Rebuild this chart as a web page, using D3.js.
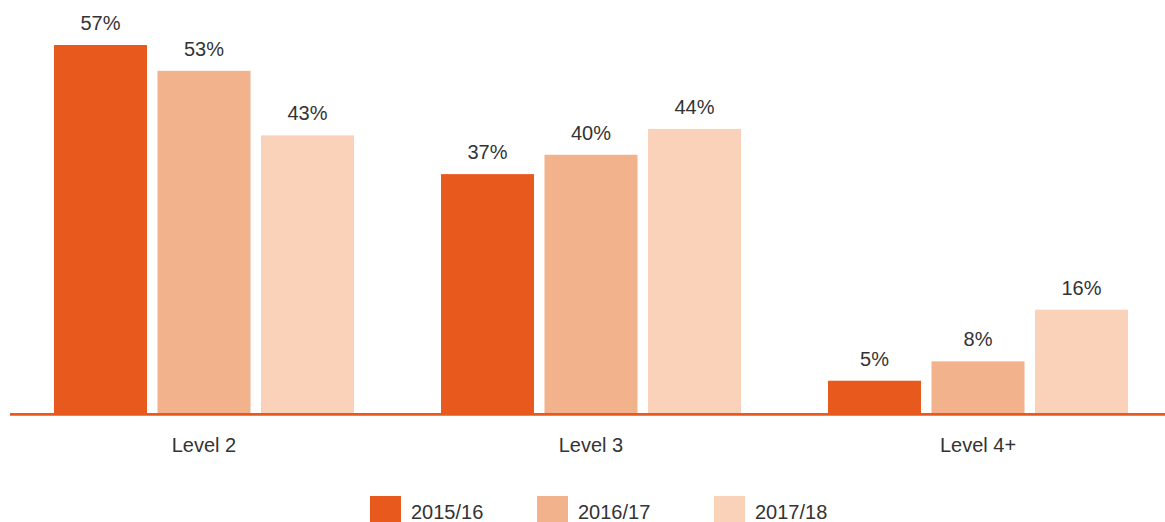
<!DOCTYPE html>
<html>
<head>
<meta charset="utf-8">
<script src="https://cdn.jsdelivr.net/npm/d3@7"></script>
<style>
  html, body { margin: 0; padding: 0; background: #fff; }
  svg { display: block; font-family: "Liberation Sans", Arial, Helvetica, sans-serif; }
</style>
</head>
<body>
<svg id="chart" width="1165" height="522"></svg>
<script>
// Share of learners by level, per academic year
const categories = ["Level 2", "Level 3", "Level 4+"];
const seriesNames = ["2015/16", "2016/17", "2017/18"];
const values2015 = [57, 37, 5];
const values2016 = [53, 40, 8];
const values2017 = [43, 44, 16];
const seriesValues = [values2015, values2016, values2017];
const colors = ["#E8591D", "#F2B38C", "#F9D2B9"];

const svg = d3.select("#chart");
const baseline = 413;

const x0 = d3.scaleBand()
  .domain(categories)
  .range([10.5, 1171.5])
  .paddingInner(0.2248)
  .paddingOuter(0.1124);

const x1 = d3.scaleBand()
  .domain(seriesNames)
  .range([0, x0.bandwidth()])
  .paddingInner(0.1014);

const y = d3.scaleLinear()
  .domain([0, 57])
  .range([baseline, 45]);

const rows = categories.map((c, i) => ({
  category: c,
  items: seriesNames.map((s, j) => ({ series: s, value: seriesValues[j][i], color: colors[j] }))
}));

const groups = svg.selectAll("g.group")
  .data(rows)
  .join("g")
  .attr("class", "group")
  .attr("transform", d => `translate(${x0(d.category)},0)`);

groups.selectAll("rect")
  .data(d => d.items)
  .join("rect")
  .attr("x", d => x1(d.series))
  .attr("y", d => y(d.value))
  .attr("width", x1.bandwidth())
  .attr("height", d => baseline - y(d.value))
  .attr("fill", d => d.color);

groups.selectAll("text.value")
  .data(d => d.items)
  .join("text")
  .attr("class", "value")
  .attr("x", d => x1(d.series) + x1.bandwidth() / 2)
  .attr("y", d => y(d.value) - 15)
  .attr("text-anchor", "middle")
  .attr("font-size", 20)
  .attr("fill", "#333")
  .text(d => d.value + "%");

// Baseline axis
const axis = svg.append("g")
  .attr("transform", `translate(0,${baseline})`)
  .call(d3.axisBottom(x0).tickSize(0).tickPadding(25));
axis.select(".domain").remove();
axis.append("line")
  .attr("x1", 10).attr("x2", 1165)
  .attr("y1", 1.4).attr("y2", 1.4)
  .attr("stroke", colors[0])
  .attr("stroke-width", 2.8);
axis.selectAll(".tick text")
  .attr("font-size", 20)
  .attr("fill", "#333")
  .attr("font-family", "Liberation Sans, Arial, sans-serif");

// Legend
const legendX = [370, 537, 714];
const legend = svg.append("g")
  .selectAll("g")
  .data(seriesNames)
  .join("g")
  .attr("transform", (d, i) => `translate(${legendX[i]},496)`);
legend.append("rect")
  .attr("width", 31)
  .attr("height", 27)
  .attr("fill", (d, i) => colors[i]);
legend.append("text")
  .attr("x", 41)
  .attr("y", 23)
  .attr("font-size", 20)
  .attr("fill", "#333")
  .text(d => d);
</script>
</body>
</html>
